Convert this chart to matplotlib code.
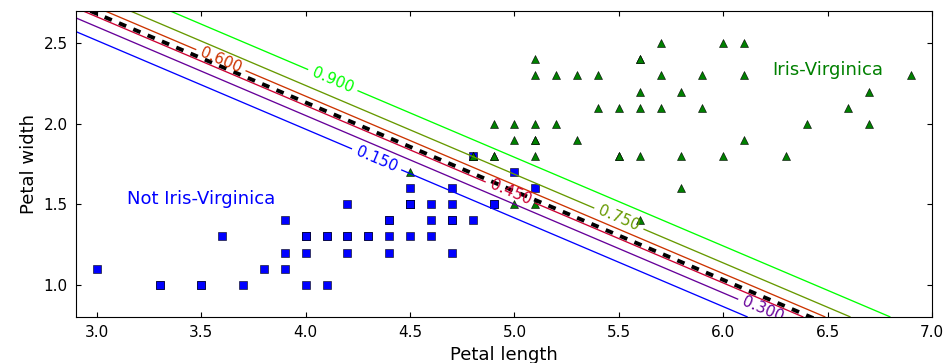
import numpy as np
import matplotlib
matplotlib.use("Agg")
import matplotlib.pyplot as plt

# petal length / width
not_virg_len = [4.7, 4.5, 4.9, 4.0, 4.6, 4.5, 4.7, 3.3, 4.6, 3.9, 3.5, 4.2, 4.0, 4.7, 3.6, 4.4, 4.5,
                4.1, 4.5, 3.9, 4.8, 4.0, 4.9, 4.7, 4.3, 4.4, 4.8, 5.0, 4.5, 3.5, 3.8, 3.7, 3.9, 5.1,
                4.5, 4.5, 4.7, 4.4, 4.1, 4.0, 4.4, 4.6, 4.0, 3.3, 4.2, 4.2, 4.2, 4.3, 3.0, 4.1]
not_virg_wid = [1.4, 1.5, 1.5, 1.3, 1.5, 1.3, 1.6, 1.0, 1.3, 1.4, 1.0, 1.5, 1.0, 1.4, 1.3, 1.4, 1.5,
                1.0, 1.5, 1.1, 1.8, 1.3, 1.5, 1.2, 1.3, 1.4, 1.4, 1.7, 1.5, 1.0, 1.1, 1.0, 1.2, 1.6,
                1.5, 1.6, 1.5, 1.3, 1.3, 1.3, 1.2, 1.4, 1.2, 1.0, 1.3, 1.2, 1.3, 1.3, 1.1, 1.3]
virg_len = [6.0, 5.1, 5.9, 5.6, 5.8, 6.6, 4.5, 6.3, 5.8, 6.1, 5.1, 5.3, 5.5, 5.0, 5.1, 5.3, 5.5,
            6.7, 6.9, 5.0, 5.7, 4.9, 6.7, 4.9, 5.7, 6.0, 4.8, 4.9, 5.6, 5.8, 6.1, 6.4, 5.6, 5.1,
            5.6, 6.1, 5.6, 5.5, 4.8, 5.4, 5.6, 5.1, 5.1, 5.9, 5.7, 5.2, 5.0, 5.2, 5.4, 5.1]
virg_wid = [2.5, 1.9, 2.1, 1.8, 2.2, 2.1, 1.7, 1.8, 1.8, 2.5, 2.0, 1.9, 2.1, 2.0, 2.4, 2.3, 1.8,
            2.2, 2.3, 1.5, 2.3, 2.0, 2.0, 1.8, 2.1, 1.8, 1.8, 1.8, 2.1, 1.6, 1.9, 2.0, 2.2, 1.5,
            1.4, 2.3, 2.4, 1.8, 1.8, 2.1, 2.4, 2.3, 1.9, 2.3, 2.5, 2.3, 1.9, 2.0, 2.3, 1.8]

# logistic model (estimated from the contour lines)
coef = [5.75, 10.44]
intercept = -45.26
levels = [0.15, 0.30, 0.45, 0.60, 0.75, 0.90]
# where the inline labels sit (on each contour line)
label_pos = [(4.34, 1.78), (6.19, 0.845), (4.98, 1.573), (3.594, 2.395), (5.50, 1.411), (4.13, 2.271)]

x0, x1 = np.meshgrid(np.linspace(2.9, 7, 500), np.linspace(0.8, 2.7, 200))
zz = 1 / (1 + np.exp(-(coef[0] * x0 + coef[1] * x1 + intercept)))

fig = plt.figure(figsize=(9.48, 3.63), dpi=100)
ax = fig.add_axes([0.0802, 0.1267, 0.9029, 0.843])

ax.plot(not_virg_len, not_virg_wid, "s", color=(0, 0, 1), ms=5.4, mec="k", mew=0.4)
ax.plot(virg_len, virg_wid, "^", color=(0, 0.5, 0), ms=5.4, mec="k", mew=0.4)

contour = ax.contour(x0, x1, zz, levels=levels, cmap=plt.cm.brg, linewidths=0.95)
ax.clabel(contour, inline=1, fontsize=11, fmt="%1.3f", manual=label_pos)

left_right = np.array([2.9, 7])
boundary = -(coef[0] * left_right + intercept) / coef[1]
ax.plot(left_right, boundary, "k", lw=2.8, dashes=(2, 2))

ax.text(3.5, 1.5, "Not Iris-Virginica", fontsize=13, color=(0, 0, 1), ha="center")
ax.text(6.5, 2.3, "Iris-Virginica", fontsize=13, color=(0, 0.5, 0), ha="center")
ax.set_xlabel("Petal length", fontsize=13)
ax.set_ylabel("Petal width", fontsize=13)
ax.axis([2.9, 7, 0.8, 2.7])
ax.set_xticks([3.0, 3.5, 4.0, 4.5, 5.0, 5.5, 6.0, 6.5, 7.0])
ax.set_yticks([1.0, 1.5, 2.0, 2.5])
ax.xaxis.set_major_formatter(matplotlib.ticker.FormatStrFormatter("%.1f"))
ax.yaxis.set_major_formatter(matplotlib.ticker.FormatStrFormatter("%.1f"))
ax.tick_params(direction="in", top=True, right=True, length=3.7, labelsize=11, pad=6)
for s in ax.spines.values():
    s.set_color("k")

fig.savefig("out.png", dpi=100)
